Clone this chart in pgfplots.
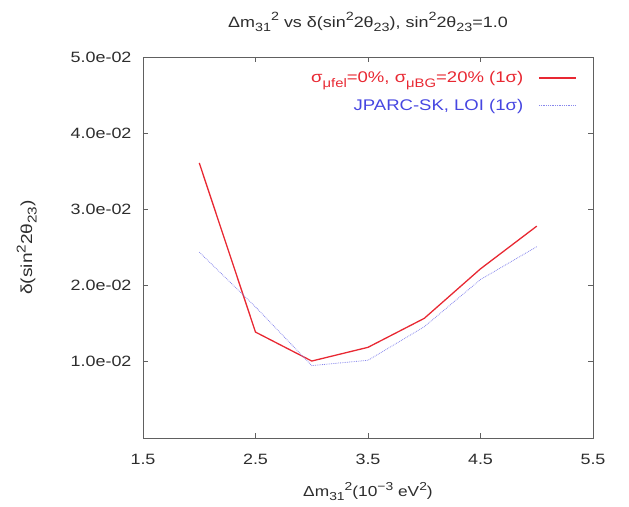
\documentclass[border=0pt]{standalone}
\usepackage{pgfplots}
\pgfplotsset{compat=1.18}
\usepackage{graphicx}
\usepackage{fontspec}
\setmainfont{Liberation Sans}[FakeStretch=1.2]
\definecolor{txt}{RGB}{45,45,45}
\definecolor{redl}{RGB}{232,40,50}
\definecolor{bluel}{RGB}{70,70,225}
\newcommand{\sps}[1]{\raisebox{0.42em}{\scalebox{0.8}{#1}}}
\newcommand{\sbs}[1]{\raisebox{-0.28em}{\scalebox{0.8}{#1}}}
\begin{document}
\begin{tikzpicture}
\begin{axis}[
  at={(0,0)}, anchor=south west,
  scale only axis, width=450bp, height=381bp,
  xmin=1.5, xmax=5.5, ymin=0, ymax=0.05,
  scaled y ticks=false, scaled x ticks=false,
  xtick={1.5,2.5,3.5,4.5,5.5},
  xticklabels={1.5,2.5,3.5,4.5,5.5},
  ytick={0.01,0.02,0.03,0.04,0.05},
  yticklabels={1.0e-02,2.0e-02,3.0e-02,4.0e-02,5.0e-02},
  tick align=inside, major tick length=5bp,
  axis line style={gray!75!black, line width=0.9pt},
  tick style={gray!75!black, line width=0.8pt},
  ticklabel style={font=\fontsize{15}{17}\selectfont, text=txt},
  xticklabel style={yshift=-13bp},
  yticklabel style={xshift=-8bp},
  title={Δm\sbs{31}\sps{2} vs δ(sin\sps{2}2θ\sbs{23}), sin\sps{2}2θ\sbs{23}=1.0},
  title style={font=\fontsize{15}{17}\selectfont, text=txt, yshift=16bp},
  xlabel={Δm\sbs{31}\sps{2}(10\sps{−3} eV\sps{2})},
  xlabel style={font=\fontsize{14.5}{16}\selectfont, text=txt, yshift=-10bp},
  ylabel={δ(sin\sps{2}2θ\sbs{23})},
  ylabel style={font=\fontsize{16}{18}\selectfont, text=txt, yshift=27bp},
  legend style={at={(rel axis cs:0.964,0.967)}, anchor=north east, draw=none, fill=none,
    font=\fontsize{15.5}{17}\selectfont, row sep=11bp, column sep=13bp, inner sep=0pt},
  legend plot pos=right, legend cell align=right,
  legend image code/.code={\draw[#1] (0bp,0bp) -- (37bp,0bp);},
]
\addplot[redl, line width=1.3pt] coordinates {
 (2.0,0.0361) (2.5,0.0139) (3.0,0.0101) (3.5,0.0119) (4.0,0.0157) (4.5,0.0222) (5.0,0.0278)};
\addlegendentry[text=redl]{σ\sbs{μfel}=0\%, σ\sbs{μBG}=20\% (1σ)}
\addplot[bluel!65, line width=0.8pt, densely dotted] coordinates {
 (2.0,0.0244) (2.5,0.0172) (3.0,0.0095) (3.5,0.0102) (4.0,0.0146) (4.5,0.0208) (5.0,0.0251)};
\addlegendentry[text=bluel]{JPARC-SK, LOI (1σ)}
\end{axis}
\path[use as bounding box] (-143bp,-69bp) rectangle (486bp,438bp);
\end{tikzpicture}
\end{document}
